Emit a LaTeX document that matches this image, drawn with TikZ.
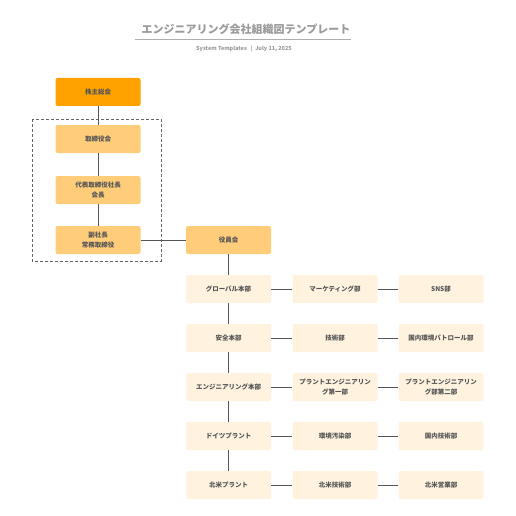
\documentclass[tikz,border=0pt]{standalone}
\usepackage{fontspec}
\setmainfont{Noto Sans CJK JP}
\usepackage{tikz}
\definecolor{topbox}{HTML}{FFA200}
\definecolor{midbox}{HTML}{FFCD7A}
\definecolor{lowbox}{HTML}{FFF3E0}
\definecolor{linegray}{HTML}{555555}
\definecolor{textgray}{HTML}{555555}
\definecolor{titlegray}{HTML}{9A9A9A}
\tikzset{
  orgbox/.style={rectangle, rounded corners=2pt, minimum width=85pt, minimum height=28pt,
    inner sep=0pt, align=center, text=textgray, font=\fontsize{6.5}{10}\selectfont\bfseries},
  topnode/.style={orgbox, fill=topbox},
  midnode/.style={orgbox, fill=midbox},
  lownode/.style={orgbox, fill=lowbox},
  orgline/.style={draw=linegray, line width=0.9pt}
}

\begin{document}
\begin{tikzpicture}[x=1pt,y=-1pt]
	\useasboundingbox[fill=white] (0,0) rectangle (516,516);
	%TITLE
	\node[text=titlegray, font=\fontsize{11}{13}\selectfont\bfseries] (title) at (246,29) {エンジニアリング会社組織図テンプレート};
	\draw[titlegray!80, line width=0.8pt] (135,39.5)--(351,39.5);
	\node[text=titlegray, font=\fontsize{5.5}{6.5}\selectfont\bfseries] (subtitle) at (244,49) {System Templates \enspace|\enspace July 11, 2025};

	%BOARD
	\draw[linegray!90, dash pattern=on 3pt off 2pt, line width=0.8pt] (32,119) rectangle (161,261);
	\node[topnode] (kabunushi) at (98,92) {株主総会};
	\node[midnode] (torishimari) at (98,139) {取締役会};
	\node[midnode] (daihyo) at (98,190) {代表取締役社長\\会長};
	\node[midnode] (fukushacho) at (98,240) {副社長\\常務取締役};
	\node[midnode] (yakuin) at (228.5,240) {役員会};

	%DIVISIONS
	\node[lownode] (global) at (228.5,289) {グローバル本部};
	\node[lownode] (anzen) at (228.5,338) {安全本部};
	\node[lownode] (eng) at (228.5,387) {エンジニアリング本部};
	\node[lownode] (doitsu) at (228.5,436) {ドイツプラント};
	\node[lownode] (hokubei) at (228.5,485) {北米プラント};
	%
	\node[lownode] (marketing) at (335,289) {マーケティング部};
	\node[lownode] (gijutsu) at (335,338) {技術部};
	\node[lownode] (plant1) at (335,387) {プラントエンジニアリン\\グ第一部};
	\node[lownode] (kankyo) at (335,436) {環境汚染部};
	\node[lownode] (hbgijutsu) at (335,485) {北米技術部};
	%
	\node[lownode] (sns) at (441,289) {SNS部};
	\node[lownode] (patrol) at (441,338) {国内環境パトロール部};
	\node[lownode] (plant2) at (441,387) {プラントエンジニアリン\\グ部第二部};
	\node[lownode] (kokunai) at (441,436) {国内技術部};
	\node[lownode] (eigyo) at (441,485) {北米営業部};

	%LINES
	\draw[orgline] (kabunushi)--(torishimari);
	\draw[orgline] (torishimari)--(daihyo);
	\draw[orgline] (daihyo)--(fukushacho);
	\draw[orgline] (fukushacho)--(yakuin);
	\draw[orgline] (yakuin)--(global);
	\draw[orgline] (global)--(anzen);
	\draw[orgline] (anzen)--(eng);
	\draw[orgline] (eng)--(doitsu);
	\draw[orgline] (doitsu)--(hokubei);
	%
	\draw[orgline] (global)--(marketing);	\draw[orgline] (marketing)--(sns);
	\draw[orgline] (anzen)--(gijutsu);		\draw[orgline] (gijutsu)--(patrol);
	\draw[orgline] (eng)--(plant1);			\draw[orgline] (plant1)--(plant2);
	\draw[orgline] (doitsu)--(kankyo);		\draw[orgline] (kankyo)--(kokunai);
	\draw[orgline] (hokubei)--(hbgijutsu);	\draw[orgline] (hbgijutsu)--(eigyo);
\end{tikzpicture}
\end{document}
